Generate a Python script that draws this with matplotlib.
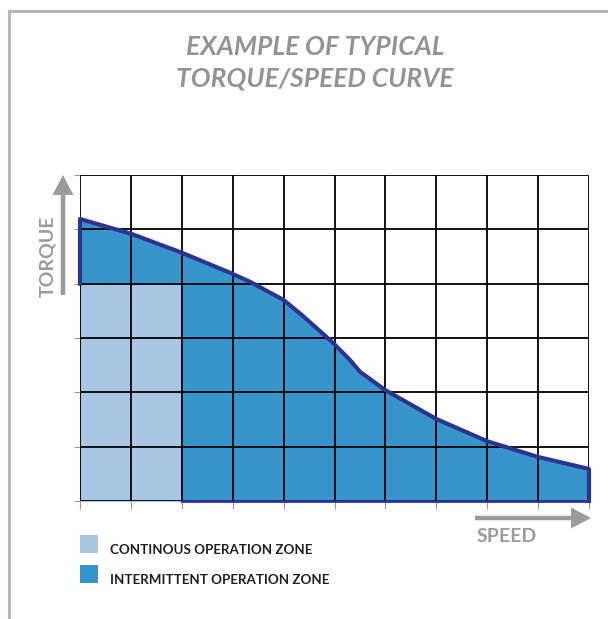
import matplotlib.pyplot as plt
from matplotlib.lines import Line2D
from matplotlib.patches import Rectangle, FancyArrow

# curve values (grid units: 10 speed cols, 6 torque rows)
speed = [0, 1, 2, 2.95, 3.35, 4, 4.35, 4.95, 5.3, 5.5, 6, 7, 8, 9, 10]
torque = [5.19, 4.92, 4.57, 4.2, 4.03, 3.7, 3.43, 2.93, 2.6, 2.38, 2.04, 1.51, 1.1, 0.81, 0.59]
cont_speed = 2
cont_torque = 4
legend_labels = ['CONTINOUS OPERATION ZONE', 'INTERMITTENT OPERATION ZONE']

light = '#a8c5e3'
mid = '#3795cc'
navy = '#2b3590'
grey = '#9a9b9d'

fig = plt.figure(figsize=(6.08, 6.19), dpi=100)
W, H = 608, 619

# outer frame (left + top edges)
fig.add_artist(Line2D([9 / W, 9 / W], [0, 1 - 11 / H], color='#b5b5b5', lw=2.2))
fig.add_artist(Line2D([9 / W, 1], [1 - 11 / H, 1 - 11 / H], color='#b5b5b5', lw=2.2))

ax = fig.add_axes([80 / W, (H - 501) / H, 509 / W, 326 / H])
ax.set_xlim(0, 10)
ax.set_ylim(0, 6)
for s in ax.spines.values():
    s.set_visible(False)

# intermittent zone (under the curve)
ax.fill_between(speed, 0, torque, color=mid, lw=0, zorder=1)
# continuous zone
ax.add_patch(Rectangle((0, 0), cont_speed, cont_torque, facecolor=light,
                       edgecolor='#2aa6e0', lw=1.2, zorder=1.5))

# grid
for x in range(11):
    ax.axvline(x, color='black', lw=1.3, zorder=2)
for y in range(7):
    ax.axhline(y, color='black', lw=1.3, zorder=2)

# outline of the intermittent zone
ax.plot([0, 0] + speed + [10], [cont_torque, torque[0]] + torque + [0],
        color=navy, lw=3, solid_joinstyle='round', zorder=3, clip_on=False)
ax.plot([cont_speed, 10], [0, 0], color=navy, lw=2, zorder=3, clip_on=False)

ax.set_xticks(range(11))
ax.set_yticks(range(7))
ax.tick_params(axis='x', length=6, color='#999999', labelbottom=False)
ax.tick_params(axis='y', length=4, color='#999999', labelleft=False)

# axis arrows
fig.add_artist(FancyArrow(63 / W, 1 - 295 / H, 0, (295 - 175) / H, width=4.5 / W,
                          head_width=21 / W, head_length=20 / H,
                          length_includes_head=True, color=grey, lw=0,
                          transform=fig.transFigure))
fig.text(48 / W, 1 - 256 / H, 'TORQUE', rotation=90, ha='center', va='center',
         fontsize=14, color=grey, family='Lato', weight='bold')
fig.add_artist(FancyArrow(475 / W, 1 - 518 / H, (591 - 475) / W, 0, width=4.5 / H,
                          head_width=21 / H, head_length=20 / W,
                          length_includes_head=True, color=grey, lw=0,
                          transform=fig.transFigure))
fig.text(507 / W, 1 - 536 / H, 'SPEED', ha='center', va='center',
         fontsize=14, color=grey, family='Lato', weight='bold')

# title
fig.text(315 / W, 1 - 47 / H, 'EXAMPLE OF TYPICAL', ha='center', va='center',
         fontsize=19, style='italic', color='#939393', family='Lato', weight='bold')
fig.text(315 / W, 1 - 78 / H, 'TORQUE/SPEED CURVE', ha='center', va='center',
         fontsize=19, style='italic', color='#939393', family='Lato', weight='bold')

# legend
for i, (lab, col) in enumerate(zip(legend_labels, [light, mid])):
    y0 = 535 + i * 30
    fig.add_artist(Rectangle((80 / W, 1 - (y0 + 18) / H), 18 / W, 18 / H,
                             facecolor=col, lw=0, transform=fig.transFigure))
    fig.text(110 / W, 1 - (y0 + 15) / H, lab, ha='left', va='center',
             fontsize=9.6, color='#1e1e1e', family='Lato', weight='bold')

fig.savefig('out.png', dpi=100)
